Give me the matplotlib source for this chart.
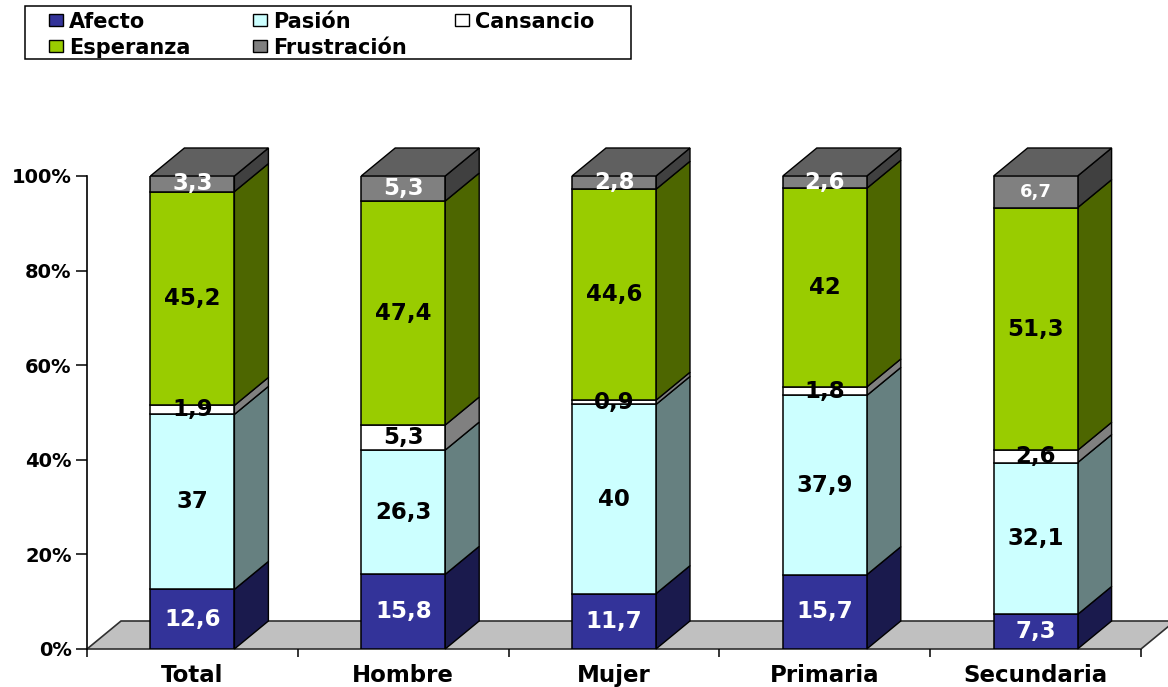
import numpy as np
import matplotlib
matplotlib.use("Agg")
import matplotlib.pyplot as plt
from matplotlib.patches import Polygon, Rectangle

W, H = 1168, 687

grupos = ["Total", "Hombre", "Mujer", "Primaria", "Secundaria"]
afecto = [12.6, 15.8, 11.7, 15.7, 7.3]
pasion = [37, 26.3, 40, 37.9, 32.1]
cansancio = [1.9, 5.3, 0.9, 1.8, 2.6]
esperanza = [45.2, 47.4, 44.6, 42, 51.3]
frustracion = [3.3, 5.3, 2.8, 2.6, 6.7]

nombres = ["Afecto", "Pasión", "Cansancio", "Esperanza", "Frustración"]
series = [afecto, pasion, cansancio, esperanza, frustracion]
frente = ["#333399", "#CCFFFF", "#FFFFFF", "#99CC00", "#808080"]
lado = ["#1A1A4D", "#668080", "#808080", "#4D6600", "#404040"]
color_texto = ["white", "black", "black", "black", "white"]
tam_texto = {(4, 4): 13}

def txt(v):
    return f"{v:g}".replace(".", ",")

fig = plt.figure(figsize=(W / 100, H / 100), dpi=100)
ax = fig.add_axes([87 / W, 1 - 649 / H, (1141 - 87) / W, (649 - 176) / H])
ax.set_xlim(-0.5, 4.5)
ax.set_ylim(0, 100)

# profundidad en unidades de datos
dx = 34 / (1054 / 5)
dy = 28 / 4.73
ancho = 84 / (1054 / 5)

# suelo
ax.add_patch(Polygon([(-0.5, 0), (-0.5 + dx, dy), (4.5 + dx, dy), (4.5, 0)],
                     closed=True, fc="#C0C0C0", ec="#303030", lw=1.2,
                     clip_on=False, zorder=1))

datos = np.array(series, dtype=float)
datos = datos / datos.sum(axis=0) * 100
for j in range(len(grupos)):
    base = 0
    for i in range(len(series)):
        v = datos[i][j]
        x0 = j - ancho / 2
        x1 = j + ancho / 2
        ax.bar(j, v, ancho, bottom=base, color=frente[i], edgecolor="black", lw=1.1, zorder=3)
        ax.add_patch(Polygon([(x1, base), (x1 + dx, base + dy), (x1 + dx, base + v + dy), (x1, base + v)],
                             closed=True, fc=lado[i], ec="black", lw=1.0,
                             clip_on=False, zorder=2.5))
        ax.text(j, base + v / 2, txt(series[i][j]), ha="center", va="center",
                color=color_texto[i], fontsize=tam_texto.get((j, i), 16.5),
                fontweight="bold", zorder=5, clip_on=False)
        base += v
    ax.add_patch(Polygon([(x0, 100), (x0 + dx, 100 + dy), (x1 + dx, 100 + dy), (x1, 100)],
                         closed=True, fc="#606060", ec="black", lw=1.0,
                         clip_on=False, zorder=2.6))

ax.spines["top"].set_visible(False)
ax.spines["right"].set_visible(False)
ax.spines["left"].set_linewidth(1.2)
ax.spines["bottom"].set_visible(False)
ax.set_yticks([0, 20, 40, 60, 80, 100])
ax.set_yticklabels(["0%", "20%", "40%", "60%", "80%", "100%"], fontsize=14, fontweight="bold")
ax.set_xticks(np.arange(-0.5, 5, 1))
ax.set_xticklabels([])
ax.set_xticks(range(5), grupos, minor=True, fontsize=16.5, fontweight="bold")
ax.tick_params(axis="x", which="minor", length=0, pad=11)
ax.tick_params(axis="x", which="major", length=6, width=1.1)
ax.tick_params(axis="y", length=8, width=1.1, pad=3)

# leyenda
fig.add_artist(Rectangle((25 / W, 1 - 59 / H), 606 / W, 53 / H, transform=fig.transFigure,
                         fc="white", ec="black", lw=1.1))
col_x = [49, 253, 455]
fila_y = [20, 46]
for i, nombre in enumerate(nombres):
    cx = col_x[i % 3]
    cy = fila_y[i // 3]
    fig.add_artist(Rectangle((cx / W, 1 - (cy + 6) / H), 14 / W, 12 / H, transform=fig.transFigure,
                             fc=frente[i], ec="black", lw=1.0))
    fig.text((cx + 20) / W, 1 - cy / H, nombre, ha="left", va="center_baseline",
             fontsize=15, fontweight="bold")

fig.savefig("out.png", dpi=100)
